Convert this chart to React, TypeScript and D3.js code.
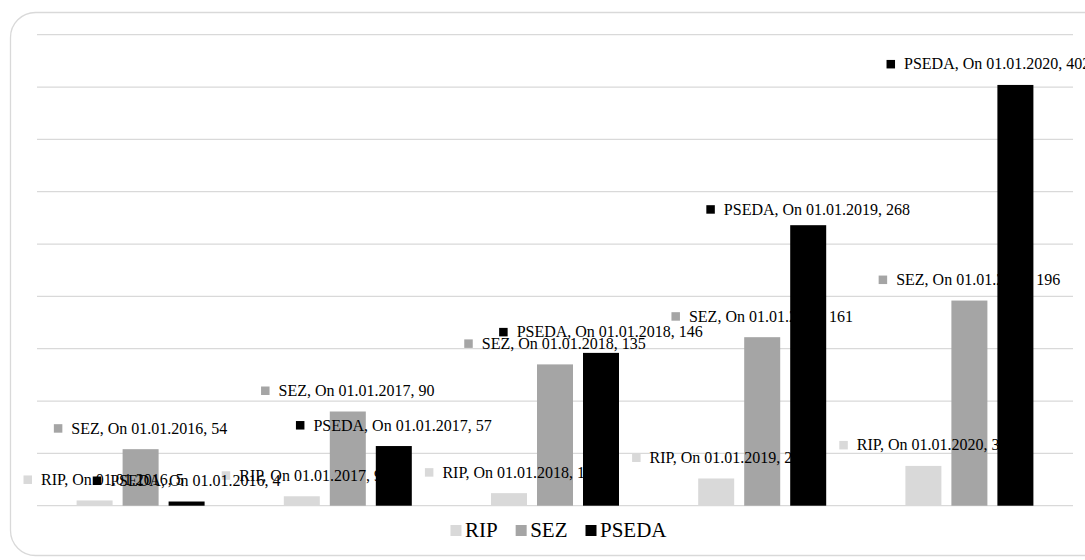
import React, { useEffect, useRef } from "react";
import * as d3 from "d3";

const categories = ["On 01.01.2016", "On 01.01.2017", "On 01.01.2018", "On 01.01.2019", "On 01.01.2020"];
const seriesNames = ["RIP", "SEZ", "PSEDA"];
const ripValues = [5, 9, 12, 26, 38];
const sezValues = [54, 90, 135, 161, 196];
const psedaValues = [4, 57, 146, 268, 402];
const yTicks = [0, 50, 100, 150, 200, 250, 300, 350, 400, 450];
const seriesColors = ["#d9d9d9", "#a5a5a5", "#000000"];

// manual label nudges (px), keyed "series-category"
const labelNudges: Record<string, [number, number]> = {
  "0-0": [9, 0],
  "2-3": [0, 5],
  "2-4": [-27, 0],
};

const W = 1085;
const H = 560;
const FONT = "Liberation Serif, Times New Roman, DejaVu Serif, serif";

export default function App() {
  const ref = useRef<SVGSVGElement | null>(null);

  useEffect(() => {
    const svg = d3.select(ref.current);
    svg.selectAll("*").remove();

    const left = 37, right = 1073, top = 34.7, bottom = 505.7;
    const allValues = [ripValues, sezValues, psedaValues];

    // card
    svg.append("rect")
      .attr("x", 10.5).attr("y", 12.5)
      .attr("width", 1110).attr("height", 543)
      .attr("rx", 25).attr("ry", 25)
      .attr("fill", "#fff").attr("stroke", "#d9d9d9").attr("stroke-width", 1.3);

    const x0 = d3.scaleBand<string>().domain(categories).range([left, right]);
    const x1 = d3.scaleBand<string>().domain(seriesNames).range([-69, 69])
      .paddingInner(10 / 46).paddingOuter(5 / 46);
    const y = d3.scaleLinear().domain([0, 450]).range([bottom, top]);

    // gridlines
    svg.append("g").selectAll("line").data(yTicks).join("line")
      .attr("x1", left).attr("x2", right)
      .attr("y1", (d) => y(d)).attr("y2", (d) => y(d))
      .attr("stroke", "#d9d9d9").attr("stroke-width", 1.3);

    const groupCenter = (c: string) => (x0(c) as number) + x0.bandwidth() / 2;

    // bars
    seriesNames.forEach((s, si) => {
      svg.append("g").selectAll("rect").data(allValues[si]).join("rect")
        .attr("x", (d, i) => groupCenter(categories[i]) + (x1(s) as number))
        .attr("width", x1.bandwidth())
        .attr("y", (d) => y(d))
        .attr("height", (d) => y(0) - y(d))
        .attr("fill", seriesColors[si]);
    });

    // data labels
    const lg = svg.append("g").style("font-family", FONT).style("font-size", "16px").attr("fill", "#000");
    seriesNames.forEach((s, si) => {
      allValues[si].forEach((v, ci) => {
        const cx = groupCenter(categories[ci]) + (x1(s) as number) + x1.bandwidth() / 2;
        const nudge = labelNudges[`${si}-${ci}`] || [0, 0];
        const g = lg.append("g");
        const t = g.append("text").text(`${s}, ${categories[ci]}, ${v}`);
        const tw = (t.node() as SVGTextElement).getComputedTextLength();
        const total = 17.5 + tw;
        const sx = cx - total / 2 + nudge[0];
        const by = y(v) - 15.5 + nudge[1];
        t.attr("x", sx + 17.5).attr("y", by);
        g.insert("rect", "text")
          .attr("x", sx).attr("y", by - 9.5)
          .attr("width", 8.5).attr("height", 8.5)
          .attr("fill", seriesColors[si]);
      });
    });

    // legend
    const leg = svg.append("g").style("font-family", FONT).style("font-size", "21px");
    const items: { g: any; w: number }[] = [];
    seriesNames.forEach((s, si) => {
      const g = leg.append("g");
      g.append("rect").attr("x", 0).attr("y", -12).attr("width", 11).attr("height", 11)
        .attr("fill", seriesColors[si]);
      const t = g.append("text").attr("x", 14.5).attr("y", 0).text(s);
      const tw = (t.node() as SVGTextElement).getComputedTextLength();
      items.push({ g, w: 14.5 + tw });
    });
    const gap = 18;
    const totalW = items.reduce((a, b) => a + b.w, 0) + gap * (items.length - 1);
    let lx = 558.5 - totalW / 2;
    items.forEach((it) => {
      it.g.attr("transform", `translate(${lx},537)`);
      lx += it.w + gap;
    });
  }, []);

  return (
    <div style={{ position: "absolute", left: 0, top: 0 }}>
      <svg ref={ref} width={W} height={H} style={{ display: "block", background: "#fff" }} />
    </div>
  );
}
